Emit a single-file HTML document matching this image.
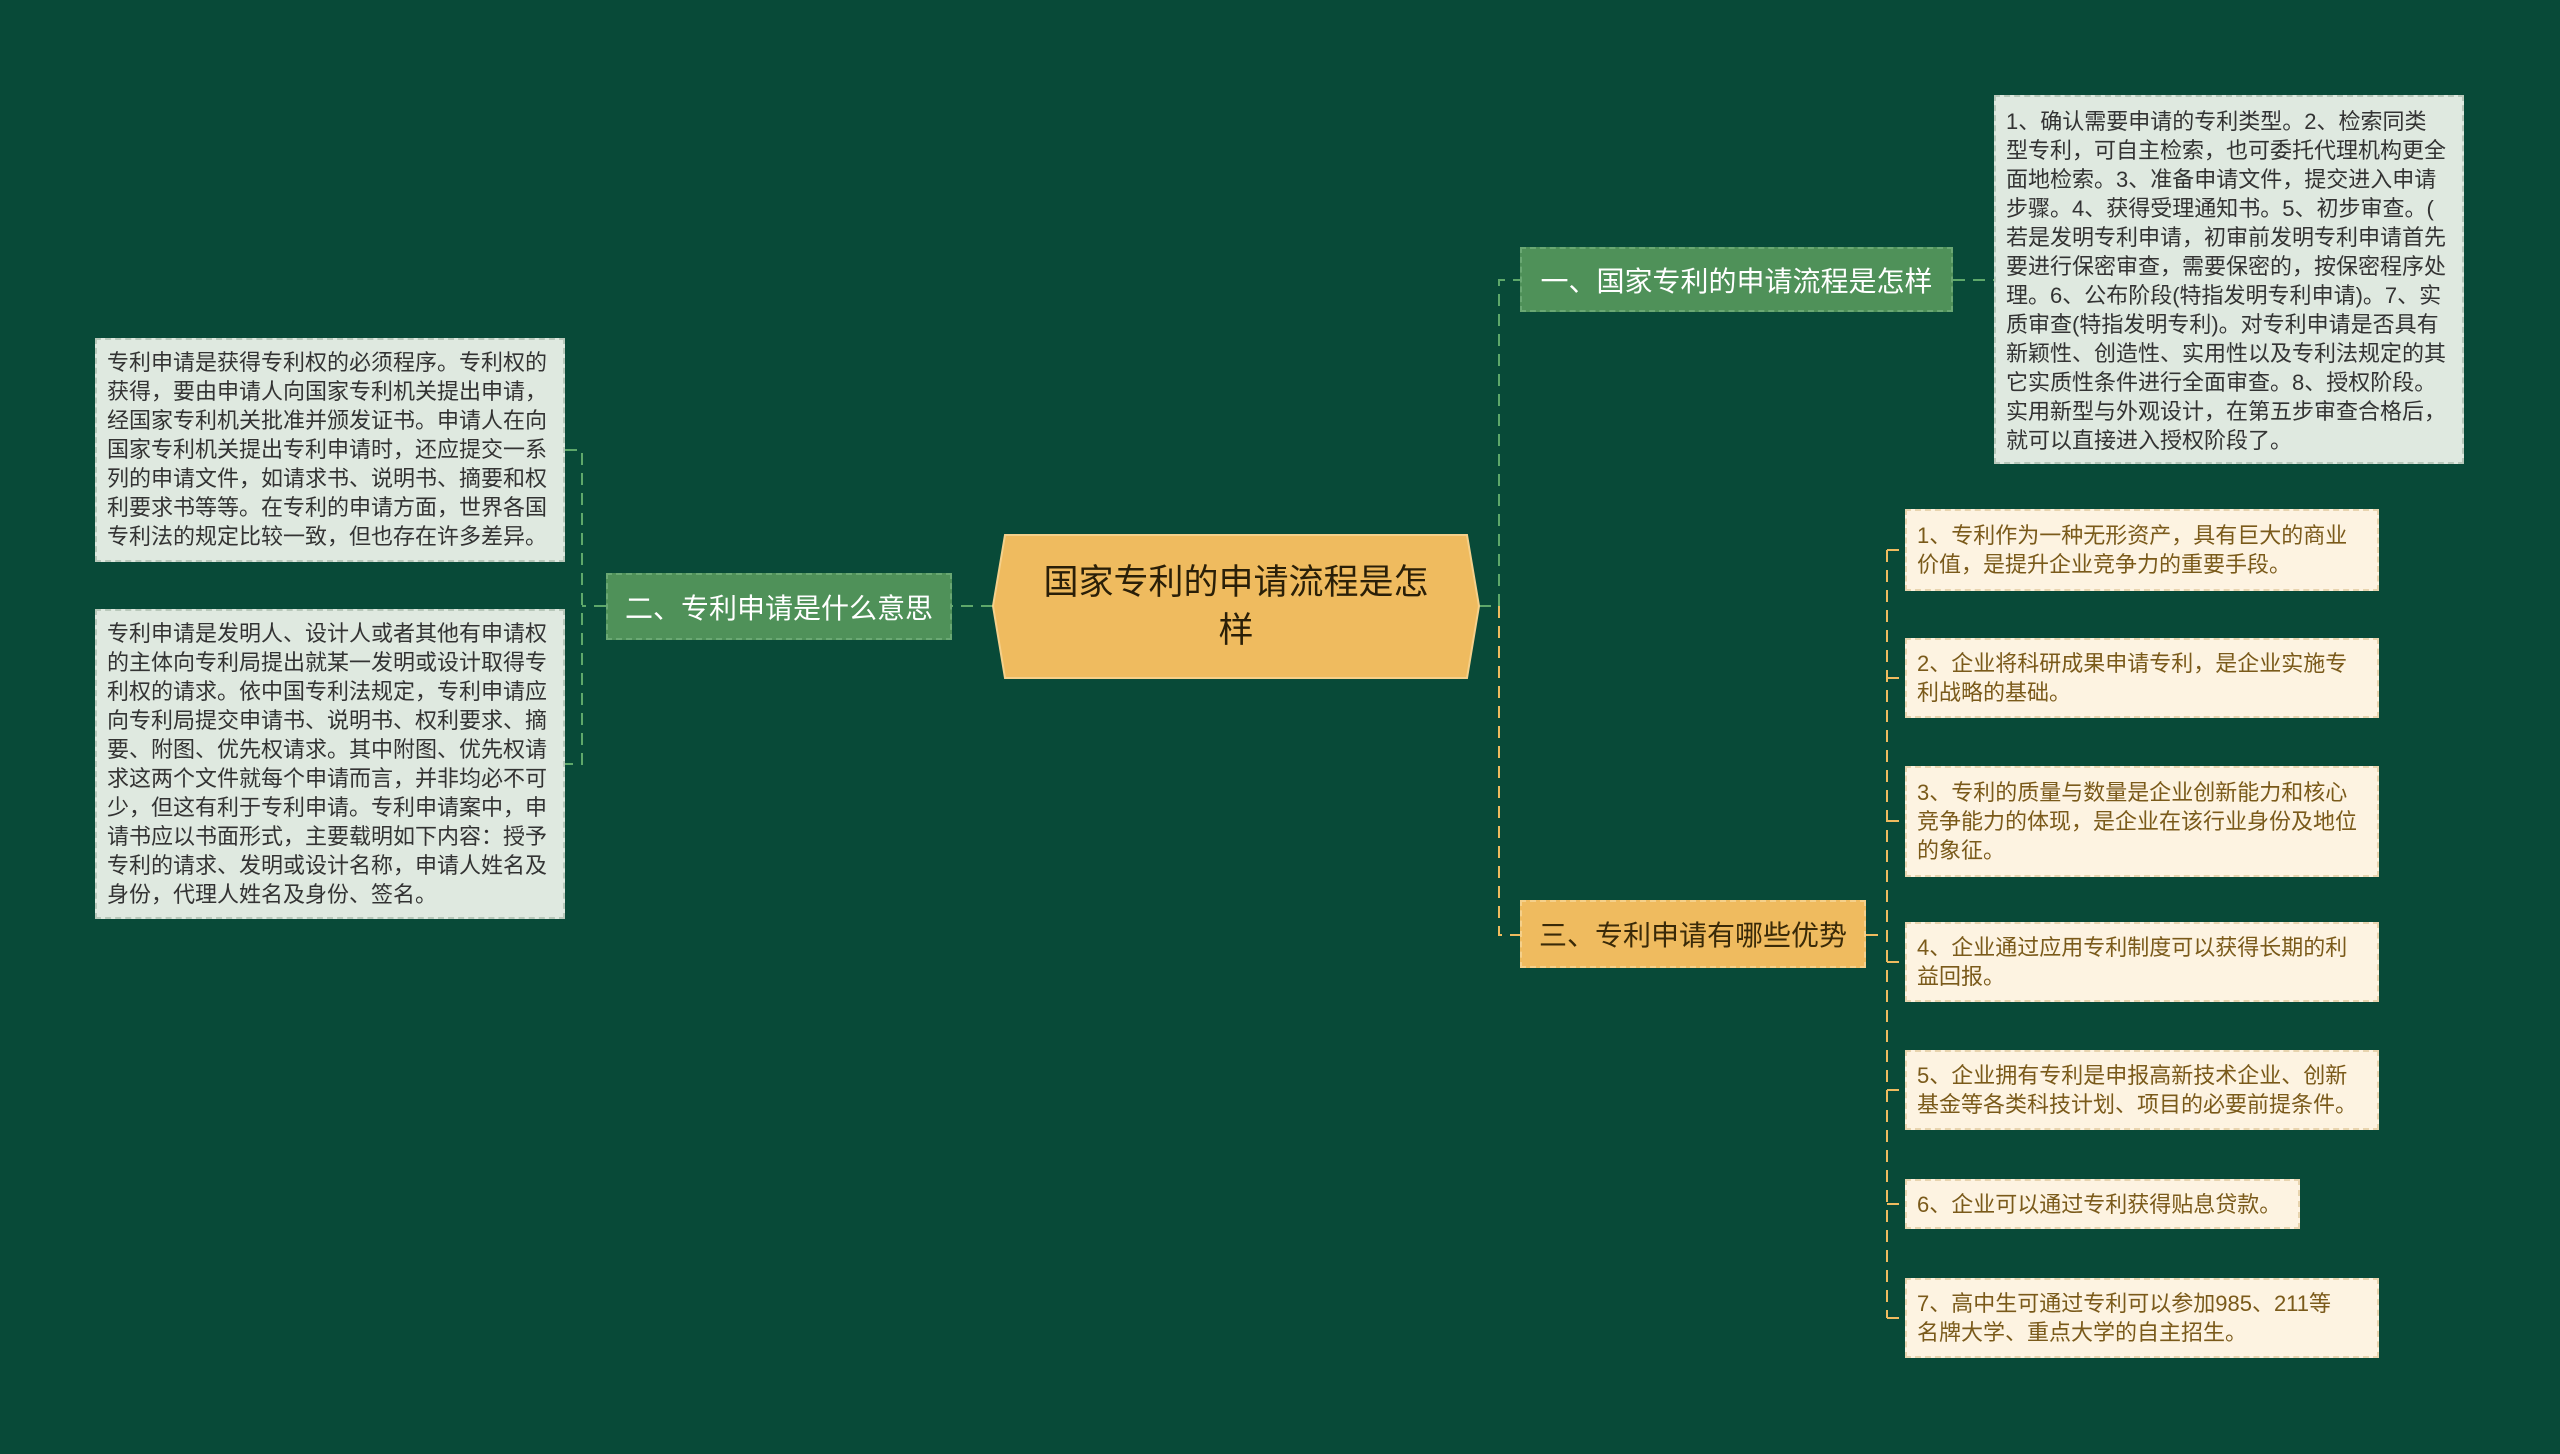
<!DOCTYPE html>
<html><head><meta charset="utf-8"><style>
body{margin:0;width:2560px;height:1454px;background:#084a38;position:relative;overflow:hidden;font-family:"Liberation Sans","Noto Sans CJK SC",sans-serif}
.n{position:absolute;box-sizing:border-box}
.g{background:#4f9159;color:#fff;font-size:28px;border:2px dashed #6aa873;display:flex;align-items:center;justify-content:center;white-space:nowrap}
.o{background:#efbb5f;color:#3a2a08;font-size:28px;border:2px dashed #f5d08a;display:flex;align-items:center;justify-content:center;white-space:nowrap}
.lg{background:#dfe9e0;color:#333;font-size:22px;line-height:29px;padding:8px 10px;border:2px dashed #b8c8ba}
.lc{background:#fdf3e1;color:#7a5a1a;font-size:22px;line-height:29px;padding:8px 10px;border:2px dashed #e8d4ae;display:flex;align-items:center;white-space:nowrap}
</style></head><body>
<svg class="n" style="left:0;top:0" width="2560" height="1454">
<g fill="none" stroke-width="2" stroke-dasharray="12,8">
<path d="M993 606H952" stroke="#5ea86a"/>
<path d="M606 606H582M565 450H582V764H565" stroke="#5ea86a"/>
<path d="M1479 606H1499M1499 606V280H1520M1953 280H1994" stroke="#5ea86a"/>
<path d="M1499 606V935H1520" stroke="#efbb5f"/>
<path d="M1866 935H1887M1887 550V1318M1887 550H1905M1887 678H1905M1887 821H1905M1887 962H1905M1887 1090H1905M1887 1204H1905M1887 1318H1905" stroke="#efbb5f"/>
</g>
<polygon points="1005,535 1467,535 1479,606 1467,678 1005,678 993,606" fill="#efbb5f" stroke="#f5d08a" stroke-width="2"/>
</svg>
<div class="n" style="left:1005px;top:535px;width:462px;height:143px;display:flex;align-items:center;justify-content:center;text-align:center;font-size:35px;line-height:48px;color:#2a1f08">国家专利的申请流程是怎<br>样</div>
<div class="n g" style="left:1520px;top:247px;width:433px;height:65px">一、国家专利的申请流程是怎样</div>
<div class="n g" style="left:606px;top:573px;width:346px;height:67px">二、专利申请是什么意思</div>
<div class="n o" style="left:1520px;top:900px;width:346px;height:68px">三、专利申请有哪些优势</div>
<div class="n lg" style="left:1994px;top:95px;width:470px;height:369px;padding:10px 0 8px 10px;white-space:nowrap;overflow:hidden">1、确认需要申请的专利类型。2、检索同类<br>型专利，可自主检索，也可委托代理机构更全<br>面地检索。3、准备申请文件，提交进入申请<br>步骤。4、获得受理通知书。5、初步审查。(<br>若是发明专利申请，初审前发明专利申请首先<br>要进行保密审查，需要保密的，按保密程序处<br>理。6、公布阶段(特指发明专利申请)。7、实<br>质审查(特指发明专利)。对专利申请是否具有<br>新颖性、创造性、实用性以及专利法规定的其<br>它实质性条件进行全面审查。8、授权阶段。<br>实用新型与外观设计，在第五步审查合格后，<br>就可以直接进入授权阶段了。</div>
<div class="n lg" style="left:95px;top:338px;width:470px;height:224px">专利申请是获得专利权的必须程序。专利权的获得，要由申请人向国家专利机关提出申请，经国家专利机关批准并颁发证书。申请人在向国家专利机关提出专利申请时，还应提交一系列的申请文件，如请求书、说明书、摘要和权利要求书等等。在专利的申请方面，世界各国专利法的规定比较一致，但也存在许多差异。</div>
<div class="n lg" style="left:95px;top:609px;width:470px;height:310px">专利申请是发明人、设计人或者其他有申请权的主体向专利局提出就某一发明或设计取得专利权的请求。依中国专利法规定，专利申请应向专利局提交申请书、说明书、权利要求、摘要、附图、优先权请求。其中附图、优先权请求这两个文件就每个申请而言，并非均必不可少，但这有利于专利申请。专利申请案中，申请书应以书面形式，主要载明如下内容：授予专利的请求、发明或设计名称，申请人姓名及身份，代理人姓名及身份、签名。</div>
<div class="n lc" style="left:1905px;top:509px;width:474px;height:82px">1、专利作为一种无形资产，具有巨大的商业<br>价值，是提升企业竞争力的重要手段。</div>
<div class="n lc" style="left:1905px;top:638px;width:474px;height:80px">2、企业将科研成果申请专利，是企业实施专<br>利战略的基础。</div>
<div class="n lc" style="left:1905px;top:766px;width:474px;height:111px">3、专利的质量与数量是企业创新能力和核心<br>竞争能力的体现，是企业在该行业身份及地位<br>的象征。</div>
<div class="n lc" style="left:1905px;top:922px;width:474px;height:80px">4、企业通过应用专利制度可以获得长期的利<br>益回报。</div>
<div class="n lc" style="left:1905px;top:1050px;width:474px;height:80px">5、企业拥有专利是申报高新技术企业、创新<br>基金等各类科技计划、项目的必要前提条件。</div>
<div class="n lc" style="left:1905px;top:1179px;width:395px;height:50px">6、企业可以通过专利获得贴息贷款。</div>
<div class="n lc" style="left:1905px;top:1278px;width:474px;height:80px">7、高中生可通过专利可以参加985、211等<br>名牌大学、重点大学的自主招生。</div>
</body></html>
